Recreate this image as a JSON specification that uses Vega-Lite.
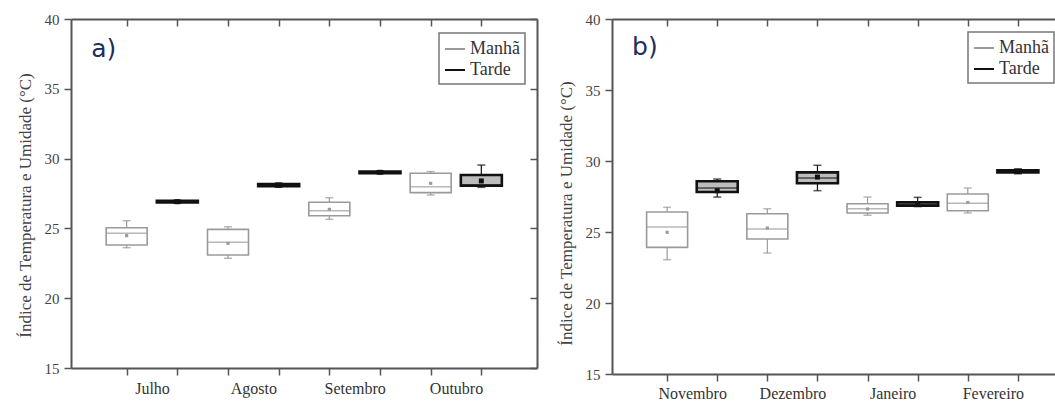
{
  "$schema": "https://vega.github.io/schema/vega-lite/v6.json",
  "background": "white",
  "padding": {"left": 16, "top": 12, "right": 0, "bottom": 0},
  "datasets": {
    "a": [
      {"pos": 1, "month": "Julho", "period": "Manhã", "min": 23.62, "q1": 23.81, "median": 24.65, "q3": 25.05, "max": 25.55, "mean": 24.48},
      {"pos": 2, "month": "Julho", "period": "Tarde", "min": 26.8, "q1": 26.85, "median": 26.92, "q3": 26.98, "max": 27.02, "mean": 26.91},
      {"pos": 3, "month": "Agosto", "period": "Manhã", "min": 22.86, "q1": 23.09, "median": 24.0, "q3": 24.93, "max": 25.12, "mean": 23.93},
      {"pos": 4, "month": "Agosto", "period": "Tarde", "min": 27.95, "q1": 28.02, "median": 28.1, "q3": 28.18, "max": 28.25, "mean": 28.1},
      {"pos": 5, "month": "Setembro", "period": "Manhã", "min": 25.65, "q1": 25.91, "median": 26.27, "q3": 26.87, "max": 27.2, "mean": 26.37},
      {"pos": 6, "month": "Setembro", "period": "Tarde", "min": 28.92, "q1": 28.96, "median": 29.02, "q3": 29.07, "max": 29.12, "mean": 29.02},
      {"pos": 7, "month": "Outubro", "period": "Manhã", "min": 27.39, "q1": 27.56, "median": 27.99, "q3": 28.95, "max": 29.07, "mean": 28.23},
      {"pos": 8, "month": "Outubro", "period": "Tarde", "min": 27.94, "q1": 28.06, "median": 28.12, "q3": 28.83, "max": 29.54, "mean": 28.4}
    ],
    "b": [
      {"pos": 1, "month": "Novembro", "period": "Manhã", "min": 23.05, "q1": 23.92, "median": 25.35, "q3": 26.41, "max": 26.74, "mean": 24.98},
      {"pos": 2, "month": "Novembro", "period": "Tarde", "min": 27.46, "q1": 27.82, "median": 28.1, "q3": 28.57, "max": 28.73, "mean": 27.91},
      {"pos": 3, "month": "Dezembro", "period": "Manhã", "min": 23.52, "q1": 24.51, "median": 25.21, "q3": 26.29, "max": 26.64, "mean": 25.28},
      {"pos": 4, "month": "Dezembro", "period": "Tarde", "min": 27.91, "q1": 28.43, "median": 28.8, "q3": 29.2, "max": 29.7, "mean": 28.87},
      {"pos": 5, "month": "Janeiro", "period": "Manhã", "min": 26.18, "q1": 26.34, "median": 26.64, "q3": 26.99, "max": 27.46, "mean": 26.62},
      {"pos": 6, "month": "Janeiro", "period": "Tarde", "min": 26.79, "q1": 26.86, "median": 26.97, "q3": 27.09, "max": 27.44, "mean": 26.97},
      {"pos": 7, "month": "Fevereiro", "period": "Manhã", "min": 26.34, "q1": 26.5, "median": 27.03, "q3": 27.68, "max": 28.1, "mean": 27.08},
      {"pos": 8, "month": "Fevereiro", "period": "Tarde", "min": 29.1, "q1": 29.2, "median": 29.27, "q3": 29.35, "max": 29.45, "mean": 29.27}
    ],
    "labA": [{"label": "a)", "x": 0.3, "y": 37.25}],
    "labB": [{"label": "b)", "x": 0.3, "y": 37.44}]
  },
  "config": {
    "view": {"stroke": null},
    "axis": {
      "grid": false,
      "labelFont": "Liberation Serif",
      "titleFont": "Liberation Serif",
      "labelFontSize": 15,
      "titleFontSize": 17,
      "titleFontWeight": "normal",
      "labelColor": "#444",
      "titleColor": "#444",
      "domainColor": "#555",
      "domainWidth": 2,
      "tickColor": "#555",
      "tickWidth": 1.5,
      "tickSize": 7
    },
    "legend": {
      "strokeColor": "#777",
      "strokeWidth": 1.5,
      "padding": 5,
      "rowPadding": 1,
      "symbolType": "stroke",
      "symbolSize": 400,
      "symbolStrokeWidth": 2,
      "labelFont": "Liberation Serif",
      "labelFontSize": 18,
      "labelColor": "#333",
      "title": null
    }
  },
  "resolve": {"legend": {"stroke": "independent"}},
  "spacing": 19,
  "hconcat": [
    {
      "width": 466,
      "height": 349,
      "data": {"name": "a"},
      "resolve": {"axis": {"x": "independent", "y": "independent"}},
      "layer": [
        {
          "mark": {"type": "rule", "strokeWidth": 1.2},
          "encoding": {
            "x": {"field": "pos", "type": "quantitative", "scale": {"domain": [0, 9], "nice": false, "zero": false},
              "axis": {"orient": "bottom", "title": null, "values": [1, 1.5, 2, 3, 3.5, 4, 5, 5.5, 6, 7, 7.5, 8],
                "labelExpr": "datum.value == 1.5 ? 'Julho' : datum.value == 3.5 ? 'Agosto' : datum.value == 5.5 ? 'Setembro' : datum.value == 7.5 ? 'Outubro' : ''",
                "labelOverlap": false, "labelFontSize": 16, "labelColor": "#333", "labelPadding": 5,
                "tickOpacity": {"condition": {"test": "datum.value % 1 != 0", "value": 0}, "value": 1}}},
            "y": {"field": "min", "type": "quantitative", "scale": {"domain": [15, 40], "nice": false, "zero": false},
              "axis": {"orient": "left", "values": [15, 20, 25, 30, 35, 40], "title": "Índice de Temperatura e Umidade (°C)", "labelPadding": 5, "titlePadding": 10, "titleY": 186}},
            "y2": {"field": "max"},
            "stroke": {"field": "period", "type": "nominal", "scale": {"domain": ["Manhã", "Tarde"], "range": ["#9a9a9a", "#111111"]},
              "legend": {"orient": "none", "legendX": 368, "legendY": 14}}
          }
        },
        {
          "mark": {"type": "bar", "size": 41},
          "encoding": {
            "x": {"field": "pos", "type": "quantitative", "axis": {"orient": "top", "title": null, "values": [1, 2, 3, 4, 5, 6, 7, 8], "labels": false, "tickSize": -7}},
            "y": {"field": "q1", "type": "quantitative", "axis": {"orient": "right", "title": null, "values": [15, 20, 25, 30, 35, 40], "labels": false, "tickSize": -7}},
            "y2": {"field": "q3"},
            "stroke": {"field": "period", "type": "nominal"},
            "fill": {"field": "period", "type": "nominal", "scale": {"domain": ["Manhã", "Tarde"], "range": ["#ffffff", "#bdbdbd"]}, "legend": null},
            "strokeWidth": {"field": "period", "type": "nominal", "scale": {"domain": ["Manhã", "Tarde"], "range": [1.6, 2.6]}, "legend": null}
          }
        },
        {
          "mark": {"type": "tick", "orient": "horizontal", "size": 41, "thickness": 1.5},
          "encoding": {
            "x": {"field": "pos", "type": "quantitative", "axis": null},
            "y": {"field": "median", "type": "quantitative", "axis": null},
            "color": {"field": "period", "type": "nominal", "scale": {"domain": ["Manhã", "Tarde"], "range": ["#9a9a9a", "#111111"]}, "legend": null}
          }
        },
        {
          "mark": {"type": "tick", "orient": "horizontal", "size": 8, "thickness": 1.5},
          "encoding": {
            "x": {"field": "pos", "type": "quantitative", "axis": null},
            "y": {"field": "min", "type": "quantitative", "axis": null},
            "color": {"field": "period", "type": "nominal", "legend": null}
          }
        },
        {
          "mark": {"type": "tick", "orient": "horizontal", "size": 8, "thickness": 1.5},
          "encoding": {
            "x": {"field": "pos", "type": "quantitative", "axis": null},
            "y": {"field": "max", "type": "quantitative", "axis": null},
            "color": {"field": "period", "type": "nominal", "legend": null}
          }
        },
        {
          "mark": {"type": "point", "filled": true, "shape": "square", "opacity": 1},
          "encoding": {
            "x": {"field": "pos", "type": "quantitative", "axis": null},
            "y": {"field": "mean", "type": "quantitative", "axis": null},
            "color": {"field": "period", "type": "nominal", "legend": null},
            "size": {"field": "period", "type": "nominal", "scale": {"domain": ["Manhã", "Tarde"], "range": [10, 25]}, "legend": null}
          }
        },
        {
          "data": {"name": "labA"},
          "mark": {"type": "text", "font": "DejaVu Sans", "fontSize": 25, "align": "left", "baseline": "alphabetic", "color": "#1f2d5c"},
          "encoding": {
            "x": {"field": "x", "type": "quantitative", "axis": null},
            "y": {"field": "y", "type": "quantitative", "axis": null},
            "text": {"field": "label"}
          }
        }
      ]
    },
    {
      "width": 461,
      "height": 355,
      "data": {"name": "b"},
      "resolve": {"axis": {"x": "independent", "y": "independent"}},
      "layer": [
        {
          "mark": {"type": "rule", "strokeWidth": 1.2},
          "encoding": {
            "x": {"field": "pos", "type": "quantitative", "scale": {"domain": [0, 9], "nice": false, "zero": false},
              "axis": {"orient": "bottom", "title": null, "values": [1, 1.5, 2, 3, 3.5, 4, 5, 5.5, 6, 7, 7.5, 8],
                "labelExpr": "datum.value == 1.5 ? 'Novembro' : datum.value == 3.5 ? 'Dezembro' : datum.value == 5.5 ? 'Janeiro' : datum.value == 7.5 ? 'Fevereiro' : ''",
                "labelOverlap": false, "labelFontSize": 16, "labelColor": "#333", "labelPadding": 4,
                "tickOpacity": {"condition": {"test": "datum.value % 1 != 0", "value": 0}, "value": 1}}},
            "y": {"field": "min", "type": "quantitative", "scale": {"domain": [15, 40], "nice": false, "zero": false},
              "axis": {"orient": "left", "values": [15, 20, 25, 30, 35, 40], "title": "Índice de Temperatura e Umidade (°C)", "labelPadding": 5, "titlePadding": 10, "titleY": 194}},
            "y2": {"field": "max"},
            "stroke": {"field": "period", "type": "nominal", "scale": {"domain": ["Manhã", "Tarde"], "range": ["#9a9a9a", "#111111"]},
              "legend": {"orient": "none", "legendX": 356, "legendY": 13}}
          }
        },
        {
          "mark": {"type": "bar", "size": 41},
          "encoding": {
            "x": {"field": "pos", "type": "quantitative", "axis": {"orient": "top", "title": null, "values": [1, 2, 3, 4, 5, 6, 7, 8], "labels": false, "tickSize": -7}},
            "y": {"field": "q1", "type": "quantitative", "axis": {"orient": "right", "title": null, "values": [15, 20, 25, 30, 35, 40], "labels": false, "tickSize": -7}},
            "y2": {"field": "q3"},
            "stroke": {"field": "period", "type": "nominal"},
            "fill": {"field": "period", "type": "nominal", "scale": {"domain": ["Manhã", "Tarde"], "range": ["#ffffff", "#bdbdbd"]}, "legend": null},
            "strokeWidth": {"field": "period", "type": "nominal", "scale": {"domain": ["Manhã", "Tarde"], "range": [1.6, 2.6]}, "legend": null}
          }
        },
        {
          "mark": {"type": "tick", "orient": "horizontal", "size": 41, "thickness": 1.5},
          "encoding": {
            "x": {"field": "pos", "type": "quantitative", "axis": null},
            "y": {"field": "median", "type": "quantitative", "axis": null},
            "color": {"field": "period", "type": "nominal", "scale": {"domain": ["Manhã", "Tarde"], "range": ["#9a9a9a", "#111111"]}, "legend": null}
          }
        },
        {
          "mark": {"type": "tick", "orient": "horizontal", "size": 8, "thickness": 1.5},
          "encoding": {
            "x": {"field": "pos", "type": "quantitative", "axis": null},
            "y": {"field": "min", "type": "quantitative", "axis": null},
            "color": {"field": "period", "type": "nominal", "legend": null}
          }
        },
        {
          "mark": {"type": "tick", "orient": "horizontal", "size": 8, "thickness": 1.5},
          "encoding": {
            "x": {"field": "pos", "type": "quantitative", "axis": null},
            "y": {"field": "max", "type": "quantitative", "axis": null},
            "color": {"field": "period", "type": "nominal", "legend": null}
          }
        },
        {
          "mark": {"type": "point", "filled": true, "shape": "square", "opacity": 1},
          "encoding": {
            "x": {"field": "pos", "type": "quantitative", "axis": null},
            "y": {"field": "mean", "type": "quantitative", "axis": null},
            "color": {"field": "period", "type": "nominal", "legend": null},
            "size": {"field": "period", "type": "nominal", "scale": {"domain": ["Manhã", "Tarde"], "range": [10, 25]}, "legend": null}
          }
        },
        {
          "data": {"name": "labB"},
          "mark": {"type": "text", "font": "DejaVu Sans", "fontSize": 25, "align": "left", "baseline": "alphabetic", "color": "#1f2d5c"},
          "encoding": {
            "x": {"field": "x", "type": "quantitative", "axis": null},
            "y": {"field": "y", "type": "quantitative", "axis": null},
            "text": {"field": "label"}
          }
        }
      ]
    }
  ]
}
